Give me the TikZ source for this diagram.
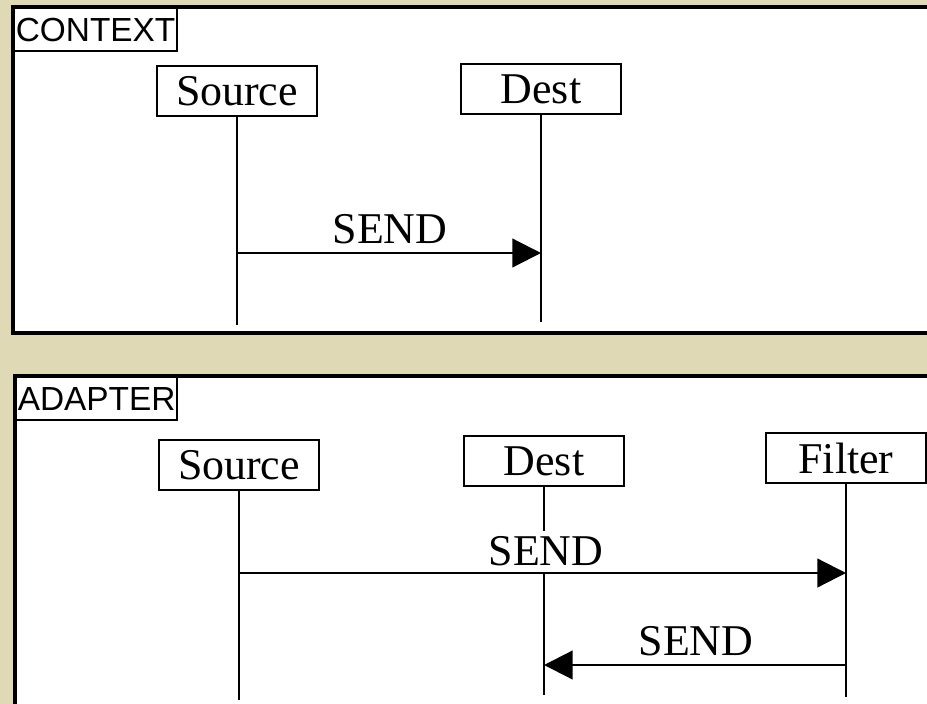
\documentclass[tikz,border=0pt]{standalone}
\usepackage{fontspec}
\setmainfont{Liberation Serif}
\newfontfamily\tagfont{Liberation Sans}
\usetikzlibrary{arrows.meta}
\definecolor{parch}{RGB}{224,217,182}
\tikzset{
  panel/.style={draw,line width=2.6pt,fill=white},
  tag/.style={draw,line width=1.8pt,fill=white,anchor=north west,inner xsep=1.5pt,inner ysep=0pt,minimum height=37pt,font=\tagfont\fontsize{28.5}{28.5}\selectfont},
  obj/.style={draw,line width=1.8pt,fill=white,minimum width=136pt,minimum height=43pt,inner sep=0pt,font=\fontsize{37.5}{37.5}\selectfont},
  lab/.style={inner sep=1pt,font=\fontsize{37.5}{37.5}\selectfont},
  life/.style={line width=1.9pt},
  msg/.style={line width=1.9pt,-{Triangle[length=24.5pt,width=24.5pt]}}
}
\begin{document}
\begin{tikzpicture}[x=0.03cm,y=-0.03cm]
\fill[parch] (0,0) rectangle (927,704);
\useasboundingbox (0,0) rectangle (927,704);
\draw[panel] (13,7) rectangle (945,333);
\draw[panel] (15,376) rectangle (945,720);
\node[tag] (ctx) at (13,7) {CONTEXT};
\node[tag] (adp) at (15,376) {ADAPTER};
\foreach \n/\t/\x/\y/\e in {s1/Source/237/91/325,d1/Dest/541/89/322,s2/Source/239/465/700,d2/Dest/544/461/695,f2/Filter/846/458/697}{
  \node[obj] (\n) at (\x,\y) {\t};
  \coordinate (\n-end) at (\x,\e);
  \draw[life] (\n) -- (\n-end);
}
\draw[msg] (s1 |- 0,253) -- (d1 |- 0,253);
\node[lab,anchor=south] (m1) at (390,245) {SEND};
\draw[msg] (s2 |- 0,573) -- (f2 |- 0,573);
\node[lab,anchor=south,fill=white,inner ysep=5pt] (m2) at (546,572) {SEND};
\draw[msg] (f2 |- 0,665) -- (d2 |- 0,665);
\node[lab,anchor=south] (m3) at (696,657) {SEND};
\end{tikzpicture}
\end{document}
